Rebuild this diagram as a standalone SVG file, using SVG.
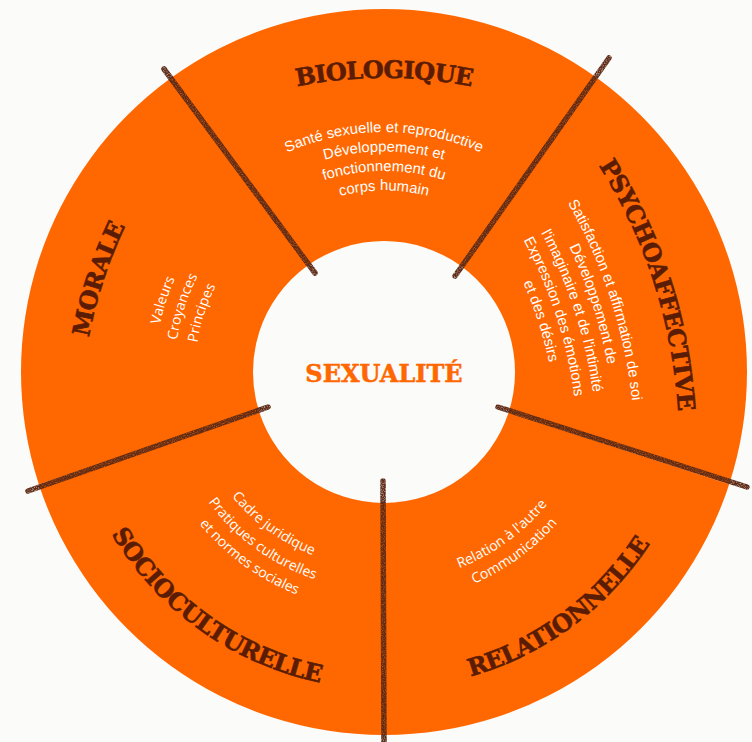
<svg xmlns="http://www.w3.org/2000/svg" width="752" height="742" viewBox="0 0 752 742">
  <defs>
    <style>
      .sector { fill: #FF6700; }
      .title { font-family: "DejaVu Serif", "Liberation Serif", serif; font-weight: bold; font-size: 24px; letter-spacing: -0.7px; fill: #5A1C04; stroke: #5A1C04; stroke-width: 0.6; }
      .body-a { font-family: "Liberation Sans", Arial, sans-serif; font-size: 14.8px; fill: #FFFFFF; }
      .body-b { font-family: "Open Sans", "Liberation Sans", sans-serif; font-size: 14px; fill: #FFFFFF; }
      .hub { font-family: "DejaVu Serif", "Liberation Serif", serif; font-weight: bold; font-size: 24px; fill: #FF6700; stroke: #FF6700; stroke-width: 0.5; }
      .divider { stroke: #5E2B16; stroke-width: 5.5; stroke-linecap: round; fill: none; }
    </style>
    <!-- grainy pencil texture for the dividing strokes -->
    <filter id="pencil" filterUnits="userSpaceOnUse" x="0" y="0" width="752" height="742">
      <feTurbulence type="fractalNoise" baseFrequency="0.9" numOctaves="2" seed="7" result="noise"/>
      <feColorMatrix in="noise" type="matrix" values="0 0 0 0 0  0 0 0 0 0  0 0 0 0 0  1.5 0 0 0 0.15" result="grain"/>
      <feComposite in="SourceGraphic" in2="grain" operator="in" result="tex"/>
      <feDisplacementMap in="tex" in2="noise" scale="1.2" xChannelSelector="R" yChannelSelector="G"/>
    </filter>

    <!-- title arcs -->
    <path id="arc-bio" d="M39.3 238.7 A450 450 0 0 1 728.7 238.7"/>
    <path id="arc-psy" d="M357.9 -37.4 A520 520 0 0 1 597.5 722.4"/>
    <path id="arc-mor" d="M149.8 658.4 A450 450 0 0 1 362.8 2.7"/>
    <path id="arc-soc" d="M68.0 396.9 A317 317 0 0 0 463.4 678.9"/>
    <path id="arc-rel" d="M310.1 679.8 A316.5 316.5 0 0 0 699.9 391.3"/>

    <!-- body text arcs -->
    <path id="bio1" d="M200.2 217.7 A240 240 0 0 1 567.8 217.7"/>
    <path id="bio2" d="M215.1 230.3 A220.5 220.5 0 0 1 552.9 230.3"/>
    <path id="bio3" d="M230.0 242.8 A201 201 0 0 1 538.0 242.8"/>
    <path id="bio4" d="M245.0 255.3 A181.5 181.5 0 0 1 523.0 255.3"/>

    <path id="psy1" d="M319.3 -13.7 A505 505 0 0 1 558.3 722.1"/>
    <path id="psy2" d="M312.2 3.9 A486 486 0 0 1 542.2 712.0"/>
    <path id="psy3" d="M305.0 21.5 A467 467 0 0 1 526.1 702.0"/>
    <path id="psy4" d="M297.9 39.1 A448 448 0 0 1 510.0 691.9"/>
    <path id="psy5" d="M290.8 56.7 A429 429 0 0 1 493.9 681.8"/>

    <path id="mor1" d="M189.8 493.3 A229 229 0 0 1 298.2 159.7"/>
    <path id="mor2" d="M206.3 483.0 A209.5 209.5 0 0 1 305.5 177.8"/>
    <path id="mor3" d="M223.7 472.2 A189 189 0 0 1 313.2 196.8"/>

    <path id="soc1" d="M188.0 385.7 A196.5 196.5 0 0 0 431.5 562.7"/>
    <path id="soc2" d="M166.0 387.3 A218.5 218.5 0 0 0 436.9 584.0"/>
    <path id="soc3" d="M145.6 388.7 A239 239 0 0 0 441.8 603.9"/>

    <path id="rel1" d="M333.2 575.8 A210 210 0 0 0 593.5 386.7"/>
    <path id="rel2" d="M328.4 595.2 A230 230 0 0 0 613.4 388.1"/>
  </defs>

  <rect width="752" height="742" fill="#FBFBFA"/>

  <!-- ring sectors, each with its heading and items -->
  <g id="biologique">
    <path class="sector" d="M170.6 78.3 A363 363 0 0 1 597.4 78.3 L461.0 266.0 A131 131 0 0 0 307.0 266.0 Z"/>
    <text class="title"><textPath href="#arc-bio" startOffset="50%" text-anchor="middle">BIOLOGIQUE</textPath></text>
    <text class="body-a"><textPath href="#bio1" startOffset="50%" text-anchor="middle">Santé sexuelle et reproductive</textPath></text>
    <text class="body-a"><textPath href="#bio2" startOffset="50%" text-anchor="middle">Développement et</textPath></text>
    <text class="body-a"><textPath href="#bio3" startOffset="50%" text-anchor="middle">fonctionnement du</textPath></text>
    <text class="body-a"><textPath href="#bio4" startOffset="50%" text-anchor="middle">corps humain</textPath></text>
  </g>

  <g id="psychoaffective">
    <path class="sector" d="M597.4 78.3 A363 363 0 0 1 729.2 484.2 L508.6 412.5 A131 131 0 0 0 461.0 266.0 Z"/>
    <text class="title"><textPath href="#arc-psy" startOffset="49.6%" text-anchor="middle">PSYCHOAFFECTIVE</textPath></text>
    <text class="body-a"><textPath href="#psy1" startOffset="50%" text-anchor="middle">Satisfaction et affirmation de soi</textPath></text>
    <text class="body-a"><textPath href="#psy2" startOffset="50%" text-anchor="middle">Développement de</textPath></text>
    <text class="body-a"><textPath href="#psy3" startOffset="50%" text-anchor="middle">l'imaginaire et de l'intimité</textPath></text>
    <text class="body-a"><textPath href="#psy4" startOffset="50%" text-anchor="middle">Expression des émotions</textPath></text>
    <text class="body-a"><textPath href="#psy5" startOffset="50%" text-anchor="middle">et des désirs</textPath></text>
  </g>

  <g id="relationnelle">
    <path class="sector" d="M729.2 484.2 A363 363 0 0 1 384 735 L384 503 A131 131 0 0 0 508.6 412.5 Z"/>
    <text class="title"><textPath href="#arc-rel" startOffset="50%" text-anchor="middle">RELATIONNELLE</textPath></text>
    <text class="body-b"><textPath href="#rel1" startOffset="50%" text-anchor="middle">Relation à l'autre</textPath></text>
    <text class="body-b"><textPath href="#rel2" startOffset="50%" text-anchor="middle">Communication</textPath></text>
  </g>

  <g id="socioculturelle">
    <path class="sector" d="M384 735 A363 363 0 0 1 38.8 484.2 L259.4 412.5 A131 131 0 0 0 384 503 Z"/>
    <text class="title"><textPath href="#arc-soc" startOffset="50%" text-anchor="middle">SOCIOCULTURELLE</textPath></text>
    <text class="body-b"><textPath href="#soc1" startOffset="50%" text-anchor="middle">Cadre juridique</textPath></text>
    <text class="body-b"><textPath href="#soc2" startOffset="50%" text-anchor="middle">Pratiques culturelles</textPath></text>
    <text class="body-b"><textPath href="#soc3" startOffset="50%" text-anchor="middle">et normes sociales</textPath></text>
  </g>

  <g id="morale">
    <path class="sector" d="M38.8 484.2 A363 363 0 0 1 170.6 78.3 L307.0 266.0 A131 131 0 0 0 259.4 412.5 Z"/>
    <text class="title"><textPath href="#arc-mor" startOffset="50%" text-anchor="middle">MORALE</textPath></text>
    <text class="body-b"><textPath href="#mor1" startOffset="50%" text-anchor="middle">Valeurs</textPath></text>
    <text class="body-b"><textPath href="#mor2" startOffset="50%" text-anchor="middle">Croyances</textPath></text>
    <text class="body-b"><textPath href="#mor3" startOffset="50%" text-anchor="middle">Principes</textPath></text>
  </g>

  <g id="sexualite">
    <text class="hub" x="384" y="382" text-anchor="middle">SEXUALITÉ</text>
  </g>

  <!-- pencil strokes separating the sectors -->
  <g id="dividers" filter="url(#pencil)">
    <line class="divider" x1="164" y1="69" x2="315" y2="273"/>
    <line class="divider" x1="609" y1="58" x2="455" y2="276"/>
    <line class="divider" x1="498" y1="407" x2="747" y2="487"/>
    <line class="divider" x1="383" y1="481" x2="384" y2="745"/>
    <line class="divider" x1="268" y1="407" x2="28" y2="491"/>
  </g>
</svg>
